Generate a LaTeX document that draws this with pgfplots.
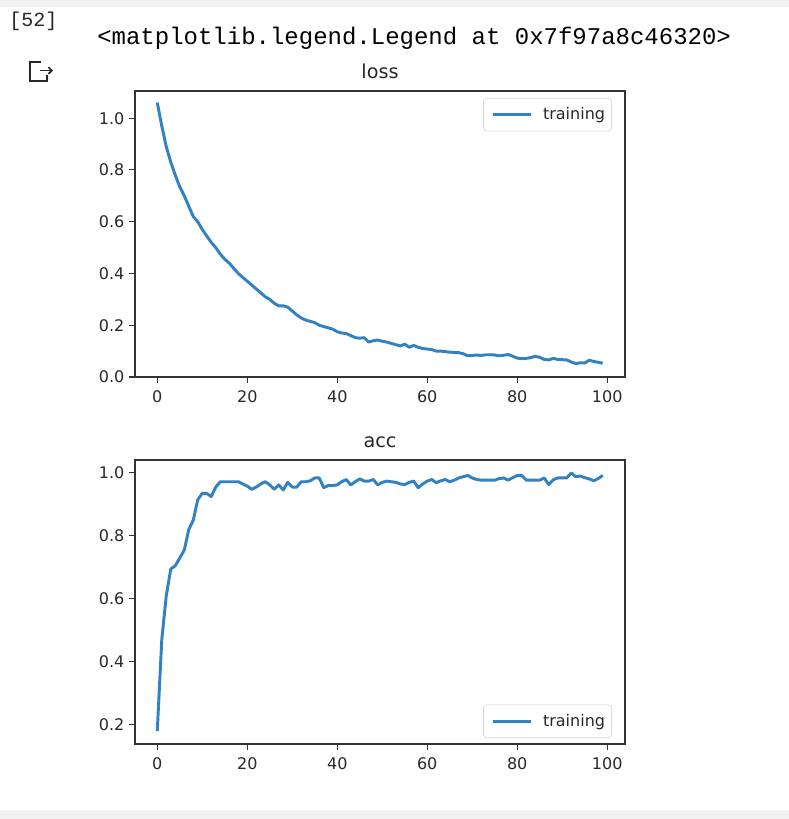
\documentclass[border=0pt]{standalone}
\usepackage{pgfplots}
\pgfplotsset{compat=1.18}
\usepackage{pgfplotstable}
\usepackage{fontspec}
\setmainfont{DejaVu Sans}
\newfontfamily\monofont{Liberation Mono}
\usetikzlibrary{arrows.meta}
\definecolor{mplblue}{RGB}{50,130,195}
\definecolor{txtgray}{RGB}{40,40,40}

% training history
\pgfplotstableread{
ep loss acc
0 1.06 0.18
1 0.97 0.47
2 0.89 0.61
3 0.83 0.695
4 0.78 0.705
5 0.735 0.73
6 0.70 0.755
7 0.66 0.82
8 0.62 0.85
9 0.60 0.915
10 0.57 0.935
11 0.545 0.935
12 0.52 0.925
13 0.50 0.955
14 0.475 0.972
15 0.455 0.972
16 0.44 0.972
17 0.42 0.972
18 0.40 0.972
19 0.385 0.965
20 0.37 0.958
21 0.355 0.948
22 0.34 0.955
23 0.325 0.965
24 0.31 0.972
25 0.30 0.962
26 0.285 0.948
27 0.275 0.962
28 0.275 0.946
29 0.27 0.97
30 0.255 0.955
31 0.24 0.955
32 0.228 0.972
33 0.22 0.972
34 0.215 0.975
35 0.21 0.984
36 0.20 0.984
37 0.195 0.953
38 0.19 0.96
39 0.185 0.96
40 0.175 0.962
41 0.17 0.972
42 0.168 0.979
43 0.16 0.962
44 0.152 0.972
45 0.15 0.981
46 0.152 0.974
47 0.135 0.974
48 0.14 0.979
49 0.143 0.962
50 0.138 0.97
51 0.135 0.974
52 0.13 0.972
53 0.125 0.97
54 0.12 0.965
55 0.127 0.963
56 0.115 0.97
57 0.122 0.974
58 0.115 0.953
59 0.11 0.965
60 0.108 0.974
61 0.106 0.979
62 0.10 0.969
63 0.10 0.975
64 0.098 0.979
65 0.096 0.972
66 0.095 0.977
67 0.094 0.984
68 0.09 0.988
69 0.082 0.992
70 0.083 0.984
71 0.085 0.979
72 0.083 0.977
73 0.086 0.977
74 0.086 0.977
75 0.085 0.977
76 0.082 0.982
77 0.084 0.984
78 0.087 0.977
79 0.08 0.985
80 0.073 0.992
81 0.071 0.992
82 0.072 0.977
83 0.075 0.977
84 0.08 0.977
85 0.076 0.977
86 0.068 0.984
87 0.066 0.963
88 0.072 0.978
89 0.068 0.984
90 0.067 0.984
91 0.066 0.984
92 0.058 1.0
93 0.052 0.988
94 0.055 0.99
95 0.054 0.985
96 0.065 0.981
97 0.06 0.975
98 0.057 0.982
99 0.053 0.992
}\hist

\pgfplotsset{
  histax/.style={
    scale only axis, width=367.5pt,
    xmin=-4.95, xmax=103.95,
    xtick={0,20,...,100},
    xtick pos=left, ytick pos=left,
    tick align=outside, major tick length=4.5pt,
    tick style={black!80, line width=0.8pt},
    axis line style={black!80, line width=0.9pt},
    ticklabel style={font=\fontsize{12}{14}\selectfont, text=txtgray},
    xticklabel style={yshift=-2.25pt},
    /pgf/number format/assume math mode=true,
    yticklabel style={/pgf/number format/.cd, fixed, fixed zerofill, precision=1},
    title style={font=\fontsize{14.4}{16}\selectfont, text=txtgray,
                 at={(0.5,1)}, anchor=base, yshift=3.75pt},
    legend cell align=left,
    legend style={draw=black!18, rounded corners=2.5pt,
                  font=\fontsize{12}{14}\selectfont, text=txtgray,
                  inner xsep=3pt, inner ysep=5pt,
                  /tikz/every odd column/.append style={column sep=6pt}},
    legend image code/.code={%
      \path (0pt,0pt);
      \draw[#1] (3pt,0pt) -- (31.5pt,0pt);},
  },
}

\begin{document}
\begin{tikzpicture}
% notebook cell chrome, in screen pixels
\begin{scope}[x=0.75pt, y=-0.75pt]
  \fill[white] (0,0) rectangle (789,819);
  \fill[black!5] (0,0) rectangle (789,7);
  \fill[black!5] (0,810) rectangle (789,819);
  \node[anchor=west, inner sep=0, text=txtgray] at (9,21)
    {\monofont\fontsize{15}{16}\selectfont [52]};
  \node[anchor=west, inner sep=0, text=black] at (97,38)
    {\monofont\fontsize{18}{20}\selectfont <matplotlib.legend.Legend at 0x7f97a8c46320>};
  \draw[black!85, line width=1.5pt] (41,62) -- (29.5,62) -- (29.5,81) -- (47,81) -- (47,75);
  \draw[black!85, line width=1.2pt, -{Straight Barb[length=2.5pt]}] (40,70.5) -- (53,70.5);
\end{scope}

\begin{axis}[histax,
  at={(101.25pt,-68.25pt)}, anchor=north west, height=214.5pt,
  ymin=0, ymax=1.105, ytick={0,0.2,...,1.0},
  title={loss},
  legend style={at={(1,1)}, anchor=north east, xshift=-9.75pt, yshift=-5.25pt},
]
\addplot[mplblue, line width=2.2pt, line join=round] table[x=ep, y=loss] {\hist};
\addlegendentry{training}
\end{axis}

\begin{axis}[histax,
  at={(101.25pt,-345pt)}, anchor=north west, height=213pt,
  ymin=0.139, ymax=1.041, ytick={0.2,0.4,...,1.0},
  title={acc},
  legend style={at={(1,0)}, anchor=south east, xshift=-9.75pt, yshift=4.5pt},
]
\addplot[mplblue, line width=2.2pt, line join=round] table[x=ep, y=acc] {\hist};
\addlegendentry{training}
\end{axis}
\end{tikzpicture}
\end{document}
